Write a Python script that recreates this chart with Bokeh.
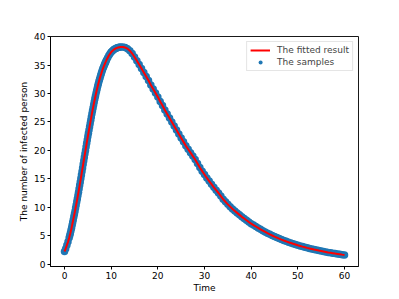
from bokeh.plotting import figure
from bokeh.models import Range1d, ColumnDataSource, Legend, LegendItem, FixedTicker
from bokeh.embed import file_html
from bokeh.resources import INLINE

# Samples
sample_time = [0, 0.25, 0.5, 0.75,
               1, 1.125, 1.25, 1.375, 1.5, 1.625, 1.75, 1.875,
               2, 2.125, 2.25, 2.375, 2.5, 2.625, 2.75, 2.875,
               3, 3.125, 3.25, 3.375, 3.5, 3.625, 3.75, 3.875,
               4, 4.125, 4.25, 4.375, 4.5, 4.625, 4.75, 4.875,
               5, 5.125, 5.25, 5.375, 5.5, 5.625, 5.75, 5.875,
               6, 6.125, 6.25, 6.375, 6.5, 6.625, 6.75, 6.875,
               7, 7.125, 7.25, 7.375, 7.5, 7.625, 7.75, 7.875,
               8, 8.125, 8.25, 8.375, 8.5, 8.625, 8.75, 8.875,
               9, 9.25, 9.5, 9.75, 10, 10.25, 10.5, 10.75, 11, 11.25, 11.5, 11.75,
               12, 12.5, 13, 13.5, 14, 14.5, 15, 15.5, 16, 16.5, 17, 17.5, 18, 18.5, 19, 19.5,
               20, 20.5, 21, 21.5, 22, 22.5, 23, 23.5, 24, 24.5, 25, 25.5, 26, 26.5, 27, 27.5,
               28, 28.5, 29, 29.5, 30, 30.5, 31, 31.5, 32, 32.5, 33, 33.5, 34, 34.5, 35, 35.5,
               36, 36.5, 37, 37.5, 38, 38.5, 39, 39.5, 40, 40.5, 41, 41.5, 42, 42.5, 43, 43.5,
               44, 44.5, 45, 45.5, 46, 46.5, 47, 47.5, 48, 48.5, 49, 49.5, 50, 50.5, 51, 51.5,
               52, 52.5, 53, 53.5, 54, 54.5, 55, 55.5, 56, 56.5, 57, 57.5, 58, 58.5, 59, 59.5, 60]
sample_infected = [2.2, 2.7, 3.3, 3.9,
                   4.6, 5.0, 5.4, 5.85, 6.3, 6.8, 7.3, 7.8,
                   8.3, 8.8, 9.3, 9.85, 10.4, 10.95, 11.5, 12.07,
                   12.65, 13.25, 13.85, 14.45, 15.05, 15.67, 16.3, 16.92,
                   17.55, 18.17, 18.8, 19.4, 20.0, 20.62, 21.25, 21.85,
                   22.45, 23.02, 23.6, 24.17, 24.75, 25.32, 25.9, 26.45,
                   27.0, 27.52, 28.05, 28.55, 29.05, 29.52, 30.0, 30.45,
                   30.9, 31.32, 31.75, 32.12, 32.5, 32.85, 33.2, 33.52,
                   33.85, 34.15, 34.45, 34.7, 34.95, 35.2, 35.45, 35.67,
                   35.9, 36.3, 36.7, 37.0, 37.3, 37.5, 37.7, 37.85, 37.95, 38.05, 38.1, 38.15,
                   38.2, 38.2, 38.1, 37.9, 37.55, 37.05, 36.45, 35.8, 35.1, 34.4, 33.7, 33.0, 32.3, 31.5, 30.8, 30.1,
                   29.4, 28.6, 27.9, 27.1, 26.4, 25.7, 25.0, 24.3, 23.6, 22.9, 22.2, 21.5, 20.8, 20.2, 19.6, 19.0,
                   18.4, 17.7, 17.0, 16.35, 15.75, 15.15, 14.6, 14.05, 13.5, 13.0, 12.5, 11.95, 11.4, 10.95, 10.5, 10.1,
                   9.7, 9.35, 9.0, 8.65, 8.3, 8.0, 7.7, 7.4, 7.1, 6.85, 6.6, 6.35, 6.1, 5.87, 5.65, 5.43,
                   5.22, 5.02, 4.83, 4.65, 4.47, 4.3, 4.14, 3.99, 3.84, 3.7, 3.56, 3.43, 3.3, 3.18, 3.06, 2.95,
                   2.84, 2.74, 2.64, 2.54, 2.45, 2.36, 2.28, 2.2, 2.12, 2.04, 1.97, 1.9, 1.83, 1.77, 1.71, 1.65, 1.6]

# Fitted curve
fit_time = sample_time
fit_infected = sample_infected

x_ticks = [0, 10, 20, 30, 40, 50, 60]
y_ticks = [0, 5, 10, 15, 20, 25, 30, 35, 40]

FONT = "DejaVu Sans"
FS = "9px"

p = figure(width=399, height=299, output_backend="svg", toolbar_location=None,
           x_range=Range1d(-3, 63), y_range=Range1d(-0.44, 40.05),
           min_border_left=50, min_border_right=41, min_border_top=36, min_border_bottom=33)
p.xgrid.visible = False
p.ygrid.visible = False
p.outline_line_color = "black"
p.outline_line_alpha = 0.9
p.outline_line_width = 1
p.background_fill_color = "white"
p.border_fill_color = "white"

for ax in (p.xaxis[0], p.yaxis[0]):
    ax.major_tick_in = 0
    ax.major_tick_out = 3
    ax.minor_tick_line_color = None
    ax.axis_line_color = "black"
    ax.major_tick_line_color = "black"
    ax.major_label_text_font = FONT
    ax.major_label_text_font_size = FS
    ax.major_label_text_color = "black"
    ax.axis_label_text_font = FONT
    ax.axis_label_text_font_size = FS
    ax.axis_label_text_font_style = "normal"
    ax.axis_label_text_color = "black"
    ax.major_label_standoff = 2

p.xaxis.ticker = FixedTicker(ticks=x_ticks)
p.yaxis.ticker = FixedTicker(ticks=y_ticks)
p.xaxis.axis_label = "Time"
p.yaxis.axis_label = "The number of infected person"
p.xaxis.axis_label_standoff = 1
p.yaxis.axis_label_standoff = 2

src_s = ColumnDataSource(dict(t=sample_time, v=sample_infected))
src_f = ColumnDataSource(dict(t=fit_time, v=fit_infected))

r_s = p.scatter("t", "v", source=src_s, size=7.5, color="#1f77b4", line_color=None)
r_f = p.line("t", "v", source=src_f, line_color="#ff0000", line_width=2)

legend = Legend(items=[LegendItem(label="The fitted result", renderers=[r_f]),
                       LegendItem(label="The samples", renderers=[r_s])],
                location="top_right", label_text_font=FONT, label_text_font_size=FS,
                glyph_width=20, glyph_height=10, label_standoff=7, spacing=2,
                padding=3, margin=5, label_height=9,
                border_line_color="#cccccc", border_line_width=1,
                background_fill_alpha=0.8)
p.add_layout(legend)

open("out.html", "w").write(file_html(p, INLINE))
